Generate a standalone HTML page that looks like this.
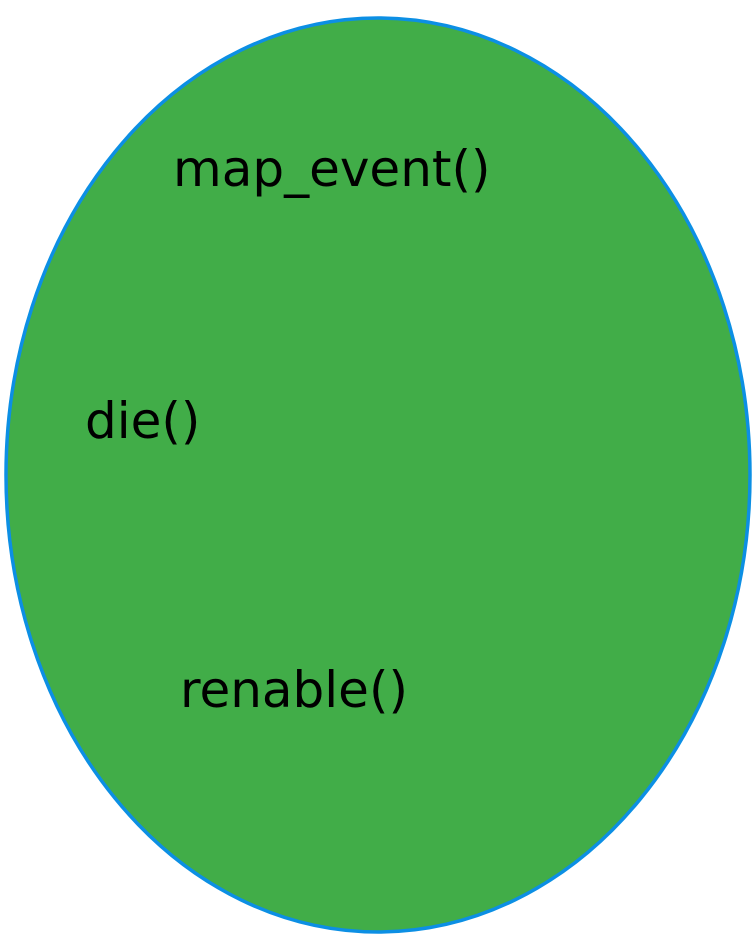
<!DOCTYPE html>
<html><head><meta charset="utf-8"><style>
html,body{margin:0;padding:0;background:#fff;width:753px;height:952px;overflow:hidden}
</style></head><body>
<svg width="753" height="952" xmlns="http://www.w3.org/2000/svg">
<ellipse cx="378" cy="475" rx="372" ry="457" fill="#41ad48" stroke="#0c8fe4" stroke-width="3.5"/>
<g font-family="'DejaVu Sans', 'Liberation Sans', sans-serif" font-size="50" fill="#000">
<text x="173" y="186">map_event()</text>
<text x="85" y="438">die()</text>
<text x="180" y="707">renable()</text>
</g>
</svg>
</body></html>
